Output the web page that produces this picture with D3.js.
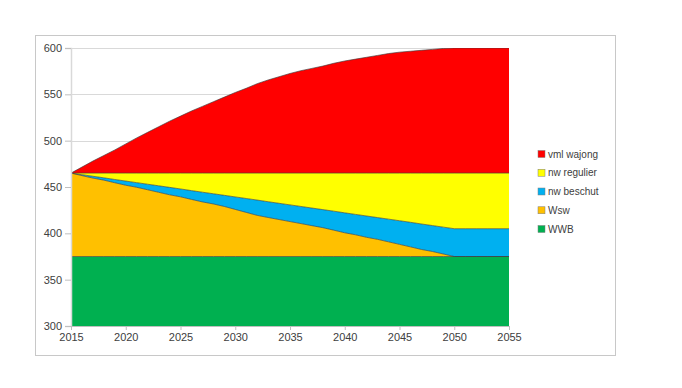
<!DOCTYPE html>
<html><head><meta charset="utf-8">
<script src="https://cdn.jsdelivr.net/npm/d3@7"></script>
<style>body{margin:0;background:#fff;}svg{display:block;font-family:"Liberation Sans",Arial,sans-serif;}</style>
</head><body><svg id="c" width="682" height="388"></svg>
<script>
const years = d3.range(2015, 2056);
const seriesNames = ["WWB", "Wsw", "nw beschut", "nw regulier", "vml wajong"];
const legendOrder = ["vml wajong", "nw regulier", "nw beschut", "Wsw", "WWB"];
const colors = {"WWB":"#00B050","Wsw":"#FFC000","nw beschut":"#00B0F0","nw regulier":"#FFFF00","vml wajong":"#FF0000"};
const yTicks = [300,350,400,450,500,550,600];
const xTicks = [2015,2020,2025,2030,2035,2040,2045,2050,2055];

const wwb = Array(41).fill(375);
const wsw = [90,87.3,84.6,82.4,79.6,76.9,74.7,72,69.3,66.6,64.4,61.6,58.9,56.7,54,50.8,47.6,44.4,42.1,39.9,37.7,35.5,33.3,31.1,28.4,25.6,23.4,20.7,18.5,15.8,13.1,10.4,7.6,5.4,2.7,0,0,0,0,0,0];
const beschut = [0,1,2,2.5,3.5,4.5,5,6,7,8,8.5,9.5,10.5,11,12,13.5,15,16.5,17,17.5,18,18.5,19,19.5,20.5,21.5,22,23,23.5,24.5,25.5,26.5,27.5,28,29,30,30,30,30,30,30];
const regulier = [0,1.7,3.4,5.1,6.9,8.6,10.3,12,13.7,15.4,17.1,18.9,20.6,22.3,24,25.7,27.4,29.1,30.9,32.6,34.3,36,37.7,39.4,41.1,42.9,44.6,46.3,48,49.7,51.4,53.1,54.9,56.6,58.3,60,60,60,60,60,60];
const wajong = [0,6.5,13,19,25,31.5,38,44,50,56,61.5,67,72,77,82,87,91.5,96.5,100.5,104,107.5,110.5,113,115.5,118.5,121,123,125,127,129,130.5,131.5,132.5,133.5,134.5,135,135,135,135,135,135];

const values = {"WWB":wwb,"Wsw":wsw,"nw beschut":beschut,"nw regulier":regulier,"vml wajong":wajong};
const table = years.map((y,i)=>{const o={year:y}; seriesNames.forEach(s=>o[s]=values[s][i]); return o;});

const svg = d3.select("#c");
svg.append("rect").attr("x",35.5).attr("y",35.5).attr("width",580).attr("height",320)
  .attr("fill","#fff").attr("stroke","#c8c8c8").attr("stroke-width",1);

const x = d3.scaleLinear().domain([2015,2055]).range([71,509]);
const y = d3.scaleLinear().domain([300,600]).range([326,48]);

// grid
svg.append("g").selectAll("line").data(yTicks.slice(1)).join("line")
  .attr("x1",71).attr("x2",509).attr("y1",d=>Math.round(y(d))+0.5).attr("y2",d=>Math.round(y(d))+0.5)
  .attr("stroke","#d9d9d9").attr("stroke-width",1);

const stack = d3.stack().keys(seriesNames)(table);
svg.append("clipPath").attr("id","clip").append("rect").attr("x",71).attr("y",48).attr("width",438).attr("height",278);
const area = d3.area().x(d=>x(d.data.year)).y0(d=>y(d[0])).y1(d=>y(d[1]));
const line = d3.line().x(d=>x(d.data.year)).y(d=>y(d[1]));
const g = svg.append("g").attr("clip-path","url(#clip)");
g.selectAll("path.a").data(stack).join("path").attr("class","a")
  .attr("d",area).attr("fill",d=>colors[d.key]);
g.selectAll("path.l").data(stack).join("path").attr("class","l")
  .attr("d",line).attr("fill","none").attr("stroke","#3a3a3a").attr("stroke-width",0.8).attr("stroke-opacity",0.8);

// axes
const yAxis = d3.axisLeft(y).tickValues(yTicks).tickSize(6).tickPadding(3);
const ya = svg.append("g").attr("transform","translate(71,0)").call(yAxis);
ya.select(".domain").attr("stroke","#d9d9d9").attr("stroke-width",1.5);
ya.selectAll(".tick line").attr("stroke","#bfbfbf");
ya.selectAll("text").attr("fill","#404040").attr("font-size","11px");

const xAxis = d3.axisBottom(x).tickValues(xTicks).tickFormat(d3.format("d")).tickSize(4).tickPadding(3);
const xa = svg.append("g").attr("transform","translate(0,326)").call(xAxis);
xa.select(".domain").attr("stroke","#bfbfbf");
xa.selectAll(".tick line").attr("stroke","#bfbfbf");
xa.selectAll("text").attr("fill","#404040").attr("font-size","11px");

// legend
const lg = svg.append("g");
const ly = d3.scalePoint().domain(legendOrder).range([154,229]);
legendOrder.forEach(k=>{
  lg.append("rect").attr("x",538).attr("y",ly(k)-3.5).attr("width",7).attr("height",7)
    .attr("fill",colors[k]).attr("stroke","#7f7f7f").attr("stroke-width",0.5);
  lg.append("text").attr("x",548).attr("y",ly(k)+3.5).attr("font-size","10px").attr("fill","#404040").text(k);
});
</script></body></html>
